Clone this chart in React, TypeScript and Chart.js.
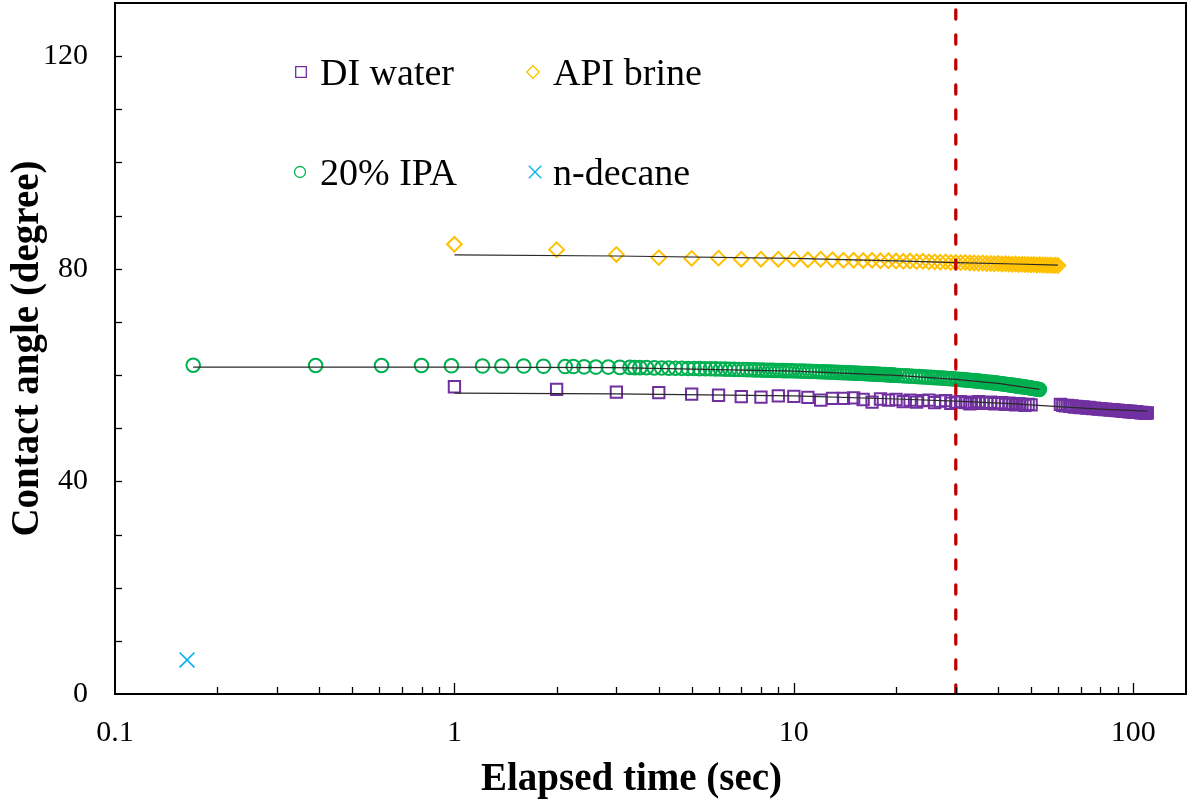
import React, { useEffect, useRef } from 'react';
import { Chart, registerables } from 'chart.js';

Chart.register(...registerables);

// ---------------- data ----------------
const diWaterTime = [
  1, 2, 3, 4, 5, 6, 7, 8, 9, 10, 11, 12, 13, 14, 15, 16, 17, 18, 19, 20,
  21, 22, 23, 24, 25, 26, 27, 28, 29, 30, 31, 32, 33, 34, 35, 36, 37, 38, 39, 40,
  41, 42, 43, 44, 45, 46, 47, 48, 49, 50,
  61, 62, 63, 64, 65, 66, 67, 68, 69, 70, 71, 72, 73, 74, 75, 76, 77, 78, 79, 80,
  81, 82, 83, 84, 85, 86, 87, 88, 89, 90, 91, 92, 93, 94, 95, 96, 97, 98, 99, 100,
  101, 102, 103, 104, 105, 106, 107, 108, 109, 110,
];
const diWaterAngle = [
  57.8, 57.3, 56.8, 56.7, 56.4, 56.2, 55.95, 55.85, 56.1, 56.0,
  55.8, 55.3, 55.6, 55.6, 55.7, 55.4, 54.9, 55.5, 55.3, 55.4,
  55.0, 55.3, 54.9, 55.2, 55.3, 54.8, 55.1, 55.2, 54.7, 54.9,
  55.0, 54.8, 54.6, 54.9, 55.0, 54.7, 54.8, 54.9, 54.6, 54.7,
  54.8, 54.5, 54.7, 54.6, 54.4, 54.6, 54.5, 54.3, 54.5, 54.4,
  54.5, 54.3, 54.2, 54.3, 54.1, 54.2, 54.0, 54.1, 54.0, 53.9,
  54.0, 53.9, 53.8, 53.9, 53.8, 53.7, 53.8, 53.7, 53.6, 53.7,
  53.6, 53.5, 53.6, 53.5, 53.5, 53.4, 53.5, 53.4, 53.3, 53.4,
  53.3, 53.3, 53.2, 53.3, 53.2, 53.2, 53.1, 53.2, 53.1, 53.1,
  53.0, 53.1, 53.0, 53.0, 52.9, 53.0, 52.9, 52.9, 52.8, 52.9,
];

const apiBrineTime = [
  1, 2, 3, 4, 5, 6, 7, 8, 9, 10, 11, 12, 13, 14, 15, 16, 17, 18, 19, 20,
  21, 22, 23, 24, 25, 26, 27, 28, 29, 30, 31, 32, 33, 34, 35, 36, 37, 38, 39, 40,
  41, 42, 43, 44, 45, 46, 47, 48, 49, 50, 51, 52, 53, 54, 55, 56, 57, 58, 59, 60,
];
const apiBrineAngle = [
  84.6, 83.6, 82.7, 82.1, 81.95, 82.0, 81.8, 81.8, 81.8, 81.85,
  81.7, 81.8, 81.7, 81.6, 81.6, 81.55, 81.6, 81.5, 81.5, 81.45,
  81.4, 81.45, 81.35, 81.4, 81.3, 81.3, 81.25, 81.3, 81.2, 81.2,
  81.15, 81.2, 81.1, 81.1, 81.05, 81.1, 81.0, 81.0, 80.95, 81.0,
  80.9, 80.95, 80.9, 80.85, 80.9, 80.8, 80.85, 80.8, 80.8, 80.75,
  80.8, 80.7, 80.75, 80.7, 80.7, 80.65, 80.7, 80.6, 80.65, 80.6,
];

const ipaTime = [
  0.17, 0.39, 0.61, 0.8, 0.98, 1.21, 1.38, 1.6, 1.83, 2.12, 2.24, 2.41, 2.61, 2.84, 3.07, 3.29, 3.4, 3.52, 3.68,
  3.88, 4.08, 4.28, 4.48, 4.68, 4.88, 5.08, 5.28, 5.48, 5.68, 5.88, 6.08, 6.28, 6.48, 6.68, 6.88,
  7.08, 7.28, 7.48, 7.68, 7.88, 8.08, 8.28, 8.48, 8.68, 8.88, 9.08, 9.28, 9.48, 9.68, 9.88,
  10.13, 10.38, 10.63, 10.88, 11.13, 11.38, 11.63, 11.88, 12.13, 12.38, 12.63, 12.88, 13.13, 13.38,
  13.63, 13.88, 14.13, 14.38, 14.63, 14.88, 15.13, 15.38, 15.63, 15.88, 16.13, 16.38, 16.63, 16.88,
  17.13, 17.38, 17.63, 17.88, 18.13, 18.38, 18.63, 18.88, 19.13, 19.38, 19.63, 19.88,
  20.4, 20.9, 21.4, 21.9, 22.4, 22.9, 23.4, 23.9, 24.4, 24.9, 25.4, 25.9, 26.4, 26.9, 27.4, 27.9,
  28.4, 28.9, 29.4, 29.9, 30.4, 30.9, 31.4, 31.9, 32.4, 32.9, 33.4, 33.9, 34.4, 34.9, 35.4, 35.9,
  36.4, 36.9, 37.4, 37.9, 38.4, 38.9, 39.4, 39.9, 40.4, 40.9, 41.4, 41.9, 42.4, 42.9, 43.4, 43.9,
  44.4, 44.9, 45.4, 45.9, 46.4, 46.9, 47.4, 47.9, 48.4, 48.9, 49.4, 49.9, 50.4, 50.9, 51.4, 51.9,
  52.4, 52.9,
];
const ipaAngle = [
  61.85, 61.8, 61.8, 61.8, 61.75, 61.7, 61.7, 61.7, 61.65, 61.6, 61.6, 61.55, 61.5, 61.5, 61.45, 61.45, 61.4, 61.4, 61.4,
  61.35, 61.33, 61.31, 61.29, 61.27, 61.25, 61.23, 61.21, 61.2, 61.18, 61.16, 61.14, 61.12, 61.1, 61.08, 61.06,
  61.04, 61.02, 61.0, 60.98, 60.96, 60.94, 60.92, 60.9, 60.88, 60.87, 60.86, 60.84, 60.83, 60.81, 60.8,
  60.78, 60.76, 60.74, 60.72, 60.7, 60.68, 60.66, 60.64, 60.62, 60.6, 60.58, 60.56, 60.53, 60.51,
  60.49, 60.47, 60.45, 60.43, 60.41, 60.39, 60.37, 60.35, 60.33, 60.31, 60.29, 60.27, 60.24, 60.22,
  60.2, 60.18, 60.16, 60.14, 60.12, 60.1, 60.08, 60.06, 60.03, 60.01, 59.99, 59.97,
  59.92, 59.88, 59.85, 59.81, 59.78, 59.74, 59.71, 59.67, 59.64, 59.6, 59.57, 59.53, 59.5, 59.46, 59.43, 59.39,
  59.36, 59.32, 59.29, 59.26, 59.22, 59.18, 59.14, 59.1, 59.06, 59.02, 58.98, 58.94, 58.9, 58.86, 58.82, 58.78,
  58.74, 58.7, 58.66, 58.62, 58.58, 58.54, 58.5, 58.46, 58.42, 58.37, 58.33, 58.28, 58.24, 58.19, 58.15, 58.1,
  58.06, 58.01, 57.97, 57.92, 57.88, 57.83, 57.79, 57.74, 57.7, 57.65, 57.61, 57.56, 57.52, 57.47, 57.43, 57.38,
  57.34, 57.3,
];

const nDecaneTime = [0.163];
const nDecaneAngle = [6.4];

const diFitTime = [1, 3, 10, 20, 30, 45, 60, 80, 110];
const diFitAngle = [56.6, 56.45, 56.1, 55.5, 55.1, 54.6, 54.05, 53.6, 53.2];
const apiFitTime = [1, 3, 10, 20, 30, 45, 60];
const apiFitAngle = [82.6, 82.4, 81.95, 81.5, 81.15, 80.9, 80.7];
const ipaFitTime = [0.17, 1, 3, 10, 20, 30, 40, 52.9];
const ipaFitAngle = [61.5, 61.5, 61.4, 60.75, 59.95, 59.2, 58.45, 57.3];

const cutoffTime = 30;

const xRange = [0.1, 143];
const yRange = [0, 130];
const xTickValues = [0.1, 1, 10, 100];
const yTickValues = [0, 40, 80, 120];
const yMinorStep = 10;
const xMinorMultipliers = [1, 2, 3, 4, 5, 6, 7, 8, 9];

const seriesLabels = ['DI water', 'API brine', '20% IPA', 'n-decane'];
const xTitle = 'Elapsed time (sec)';
const yTitle = 'Contact angle (degree)';

// ---------------- styling ----------------
const FONT = "'Liberation Serif', 'Times New Roman', Times, serif";
const PURPLE = '#7030A0';
const ORANGE = '#FFC000';
const GREEN = '#00B050';
const CYAN = '#00B0F0';
const RED = '#C00000';
const FIT = '#2a2a2a';

const pts = (xs: number[], ys: number[]) => xs.map((x, i) => ({ x, y: ys[i] }));

function drawMarker(ctx: CanvasRenderingContext2D, style: string, x: number, y: number, r: number, color: string, lw: number) {
  ctx.save();
  ctx.strokeStyle = color;
  ctx.lineWidth = lw;
  ctx.beginPath();
  if (style === 'rect') {
    ctx.rect(x - r, y - r, 2 * r, 2 * r);
  } else if (style === 'rectRot') {
    ctx.moveTo(x - r, y);
    ctx.lineTo(x, y - r);
    ctx.lineTo(x + r, y);
    ctx.lineTo(x, y + r);
    ctx.closePath();
  } else if (style === 'circle') {
    ctx.arc(x, y, r, 0, Math.PI * 2);
  } else {
    ctx.moveTo(x - r, y - r);
    ctx.lineTo(x + r, y + r);
    ctx.moveTo(x + r, y - r);
    ctx.lineTo(x - r, y + r);
  }
  ctx.stroke();
  ctx.restore();
}

const legendItems = [
  { label: seriesLabels[0], style: 'rect', color: PURPLE, mx: 301, my: 72, r: 5.3, tx: 320, ty: 85 },
  { label: seriesLabels[1], style: 'rectRot', color: ORANGE, mx: 533, my: 72, r: 6.3, tx: 553, ty: 85 },
  { label: seriesLabels[2], style: 'circle', color: GREEN, mx: 300, my: 172, r: 5.5, tx: 320, ty: 185 },
  { label: seriesLabels[3], style: 'cross', color: CYAN, mx: 535, my: 172, r: 6.2, tx: 553, ty: 185 },
];

const decorPlugin = {
  id: 'decor',
  afterDraw(chart: any) {
    const { ctx, chartArea: a, scales } = chart;
    const xs = scales.x;
    const ys = scales.y;
    ctx.save();
    ctx.strokeStyle = '#000';
    ctx.lineWidth = 1.3;
    // y tick marks (inside)
    for (let v = yRange[0] + yMinorStep; v < yRange[1]; v += yMinorStep) {
      const py = Math.round(ys.getPixelForValue(v)) + 0.5;
      ctx.beginPath();
      ctx.moveTo(a.left, py);
      ctx.lineTo(a.left + 7, py);
      ctx.stroke();
    }
    // x tick marks (inside)
    for (const d of xTickValues) {
      for (const m of xMinorMultipliers) {
        const v = d * m;
        if (v <= xRange[0] * 1.0001 || v >= xRange[1]) continue;
        const px = Math.round(xs.getPixelForValue(v)) + 0.5;
        const len = m === 1 ? 11 : 7;
        ctx.beginPath();
        ctx.moveTo(px, a.bottom);
        ctx.lineTo(px, a.bottom - len);
        ctx.stroke();
      }
    }
    // frame
    ctx.lineWidth = 2;
    ctx.strokeRect(a.left, a.top, a.right - a.left, a.bottom - a.top);

    // legend
    ctx.fillStyle = '#000';
    ctx.font = `38px ${FONT}`;
    ctx.textAlign = 'left';
    ctx.textBaseline = 'alphabetic';
    for (const it of legendItems) {
      drawMarker(ctx, it.style, it.mx, it.my, it.r, it.color, 1.3);
      ctx.fillText(it.label, it.tx, it.ty);
    }

    // axis titles
    ctx.font = `bold 39px ${FONT}`;
    ctx.textAlign = 'center';
    ctx.textBaseline = 'alphabetic';
    ctx.fillText(xTitle, 631.5, 790);

    ctx.save();
    ctx.translate(28, (a.top + a.bottom) / 2);
    ctx.rotate(-Math.PI / 2);
    ctx.textBaseline = 'middle';
    ctx.fillText(yTitle, 0, 0);
    ctx.restore();

    ctx.restore();
  },
};

export default function App() {
  const ref = useRef<HTMLCanvasElement>(null);
  useEffect(() => {
    document.body.style.margin = '0';
    Chart.defaults.font.family = FONT;
    Chart.defaults.color = '#000';
    const chart = new Chart(ref.current as HTMLCanvasElement, {
      type: 'scatter',
      data: {
        datasets: [
          {
            type: 'line',
            label: 'cutoff',
            data: [{ x: cutoffTime, y: yRange[0] }, { x: cutoffTime, y: yRange[1] }],
            borderColor: RED,
            borderWidth: 3.3,
            borderDash: [9, 16],
            borderCapStyle: 'round',
            pointRadius: 0,
            order: 0,
          } as any,
          {
            type: 'line',
            label: 'DI fit',
            data: pts(diFitTime, diFitAngle),
            borderColor: FIT,
            borderWidth: 1.2,
            pointRadius: 0,
            order: 1,
          } as any,
          {
            type: 'line',
            label: 'API fit',
            data: pts(apiFitTime, apiFitAngle),
            borderColor: FIT,
            borderWidth: 1.2,
            pointRadius: 0,
            order: 1,
          } as any,
          {
            type: 'line',
            label: 'IPA fit',
            data: pts(ipaFitTime, ipaFitAngle),
            borderColor: FIT,
            borderWidth: 1.2,
            pointRadius: 0,
            order: 1,
          } as any,
          {
            label: seriesLabels[0],
            data: pts(diWaterTime, diWaterAngle),
            pointStyle: 'rect',
            pointRadius: 8,
            pointBorderColor: PURPLE,
            pointBorderWidth: 2,
            pointBackgroundColor: 'rgba(0,0,0,0)',
            order: 2,
          },
          {
            label: seriesLabels[1],
            data: pts(apiBrineTime, apiBrineAngle),
            pointStyle: 'rectRot',
            pointRadius: 7.3,
            pointBorderColor: ORANGE,
            pointBorderWidth: 2,
            pointBackgroundColor: 'rgba(0,0,0,0)',
            order: 2,
          },
          {
            label: seriesLabels[2],
            data: pts(ipaTime, ipaAngle),
            pointStyle: 'circle',
            pointRadius: 6.8,
            pointBorderColor: GREEN,
            pointBorderWidth: 2,
            pointBackgroundColor: 'rgba(0,0,0,0)',
            order: 2,
          },
          {
            label: seriesLabels[3],
            data: pts(nDecaneTime, nDecaneAngle),
            pointStyle: 'crossRot',
            pointRadius: 10.5,
            pointBorderColor: CYAN,
            pointBorderWidth: 1.6,
            order: 2,
          },
        ],
      },
      options: {
        responsive: false,
        animation: false,
        events: [],
        devicePixelRatio: 1,
        layout: { autoPadding: false, padding: { left: 0, right: 2, top: 3, bottom: 0 } },
        plugins: {
          legend: { display: false },
          tooltip: { enabled: false },
          title: { display: false },
        },
        scales: {
          x: {
            type: 'logarithmic',
            min: xRange[0],
            max: xRange[1],
            grid: { display: false, drawTicks: false },
            border: { display: false },
            afterBuildTicks: (s: any) => {
              s.ticks = xTickValues.map((v) => ({ value: v }));
            },
            afterFit: (s: any) => {
              s.height = 107;
              s.paddingLeft = 0;
              s.paddingRight = 0;
              s.paddingTop = 0;
              s.paddingBottom = 0;
            },
            ticks: {
              autoSkip: false,
              maxRotation: 0,
              minRotation: 0,
              padding: 24,
              color: '#000',
              font: { family: FONT, size: 30, lineHeight: 1 },
              callback: (v: any) => String(v),
            },
          },
          y: {
            type: 'linear',
            min: yRange[0],
            max: yRange[1],
            grid: { display: false, drawTicks: false },
            border: { display: false },
            afterBuildTicks: (s: any) => {
              s.ticks = yTickValues.map((v) => ({ value: v }));
            },
            afterFit: (s: any) => {
              s.width = 115;
              s.paddingLeft = 0;
              s.paddingRight = 0;
              s.paddingTop = 0;
              s.paddingBottom = 0;
            },
            ticks: {
              padding: 27,
              color: '#000',
              font: { family: FONT, size: 30, lineHeight: 1 },
              callback: (v: any) => String(v),
            },
          },
        },
      } as any,
      plugins: [decorPlugin],
    });
    return () => chart.destroy();
  }, []);

  return (
    <div style={{ width: 1188, height: 801, background: '#fff' }}>
      <canvas ref={ref} width={1188} height={801} style={{ display: 'block' }} />
    </div>
  );
}
